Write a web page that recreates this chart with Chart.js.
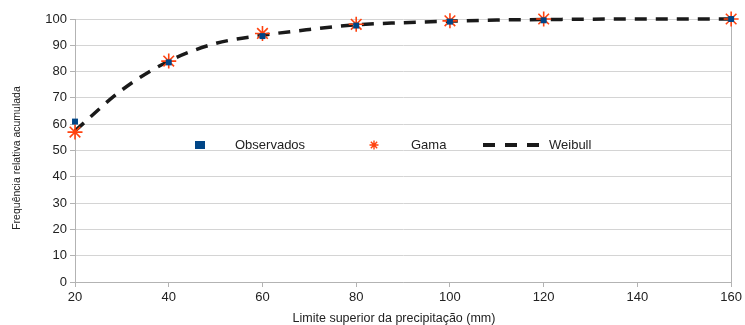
<!DOCTYPE html>
<html><head><meta charset="utf-8">
<script src="https://cdn.jsdelivr.net/npm/chart.js@4/dist/chart.umd.min.js"></script>
<style>html,body{margin:0;padding:0;background:#fff}#wrap{width:745px;height:325px}</style>
</head><body><div id="wrap"><canvas id="c" width="745" height="325"></canvas></div>
<script>
const limits = [20, 40, 60, 80, 100, 120, 160];
const observados = [61, 83.5, 93.5, 97.5, 99, 99.5, 100];
const gama = [57, 84, 94.5, 98, 99.3, 100, 100];
const weibullX = [20, 30, 40, 50, 60, 70, 80, 90, 100, 110, 120, 140, 160];
const weibullY = [57.5, 73, 84, 90.7, 93.8, 96, 97.8, 98.6, 99.2, 99.6, 99.8, 100, 100];
const xTicks = [20, 40, 60, 80, 100, 120, 140, 160];
const legendLabels = ['Observados', 'Gama', 'Weibull'];
const xTitle = 'Limite superior da precipitação (mm)';
const yTitle = 'Frequência relativa acumulada';

const FONT = '"Liberation Sans", Arial, sans-serif';
const BLUE = '#004586', ORANGE = '#ff420e';

const overlayPlugin = {
  id: 'overlay',
  afterDraw(chart) {
    const ctx = chart.ctx;
    const y = 145;
    ctx.save();
    ctx.fillStyle = '#222';
    ctx.textAlign = 'center';
    ctx.textBaseline = 'middle';
    ctx.font = '12.5px ' + FONT;
    ctx.fillText(xTitle, 394, 319);
    ctx.save();
    ctx.translate(17, 158);
    ctx.rotate(-Math.PI / 2);
    ctx.font = '10.5px ' + FONT;
    ctx.fillText(yTitle, 0, 0);
    ctx.restore();
    ctx.textAlign = 'left';
    ctx.font = '13px ' + FONT;
    ctx.fillStyle = BLUE;
    ctx.fillRect(195, y - 4, 10, 8);
    ctx.fillStyle = '#222';
    ctx.fillText(legendLabels[0], 235, y);
    ctx.strokeStyle = ORANGE; ctx.lineWidth = 1.4;
    const cx = 374, r = 4.5;
    ctx.beginPath();
    for (let a = 0; a < 4; a++) {
      const ang = a * Math.PI / 4;
      ctx.moveTo(cx - r * Math.cos(ang), y - r * Math.sin(ang));
      ctx.lineTo(cx + r * Math.cos(ang), y + r * Math.sin(ang));
    }
    ctx.stroke();
    ctx.fillText(legendLabels[1], 411, y);
    ctx.fillStyle = '#1a1a1a';
    ctx.fillRect(483, y - 2, 12, 4);
    ctx.fillRect(505, y - 2, 12, 4);
    ctx.fillRect(527, y - 2, 12, 4);
    ctx.fillStyle = '#222';
    ctx.fillText(legendLabels[2], 549, y);
    ctx.restore();
  }
};

new Chart(document.getElementById('c'), {
  type: 'scatter',
  data: {
    datasets: [
      {
        label: legendLabels[2],
        data: weibullX.map((x, i) => ({x, y: weibullY[i]})),
        showLine: true,
        borderColor: '#1a1a1a',
        borderWidth: 3.5,
        borderDash: [12, 9],
        pointRadius: 0,
        cubicInterpolationMode: 'monotone',
        clip: false,
        order: 3
      },
      {
        label: legendLabels[1],
        data: limits.map((x, i) => ({x, y: gama[i]})),
        pointStyle: 'star',
        pointRadius: 7.5,
        borderColor: ORANGE,
        backgroundColor: ORANGE,
        borderWidth: 1.6,
        clip: false,
        order: 2
      },
      {
        label: legendLabels[0],
        data: limits.map((x, i) => ({x, y: observados[i]})),
        pointStyle: 'rect',
        pointRadius: 4.2,
        backgroundColor: BLUE,
        borderColor: BLUE,
        borderWidth: 0,
        clip: false,
        order: 1
      }
    ]
  },
  options: {
    responsive: false,
    animation: false,
    layout: { padding: { top: 19, right: 11, left: 0, bottom: 0 } },
    plugins: { legend: { display: false }, tooltip: { enabled: false } },
    scales: {
      x: {
        type: 'linear', min: 20, max: 160,
        afterBuildTicks: s => { s.ticks = xTicks.map(v => ({value: v})); },
        afterFit: s => { s.height = 43; },
        border: { color: '#b3b3b3', width: 1 },
        grid: {
          color: c => (c.tick && c.tick.value === 160) ? '#b3b3b3' : 'rgba(0,0,0,0)',
          tickColor: '#b3b3b3', tickLength: 5, drawOnChartArea: true
        },
        ticks: { font: { family: FONT, size: 13 }, color: '#222', padding: 3, maxRotation: 0 },
        title: { display: false }
      },
      y: {
        min: 0, max: 100,
        afterFit: s => { s.width = 75; },
        border: { color: '#b3b3b3', width: 1 },
        grid: { color: '#d4d4d4', tickColor: '#b3b3b3', tickLength: 5 },
        ticks: { stepSize: 10, font: { family: FONT, size: 13 }, color: '#222', padding: 3 },
        title: { display: false }
      }
    }
  },
  plugins: [overlayPlugin]
});
</script></body></html>
